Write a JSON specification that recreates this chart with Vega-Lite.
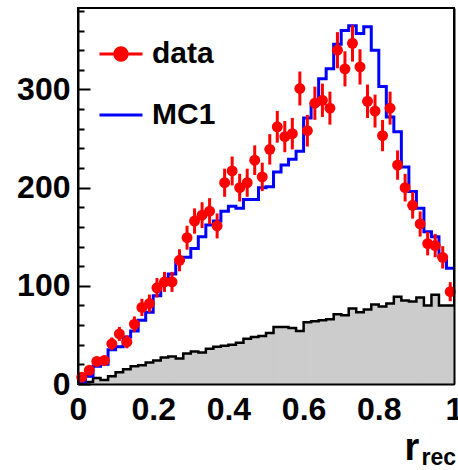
{
  "$schema": "https://vega.github.io/schema/vega-lite/v6.json",
  "width": 376,
  "height": 376,
  "autosize": {"type": "none"},
  "padding": {"left": 78, "top": 8, "right": 4, "bottom": 86},
  "background": "white",
  "config": {
    "view": {"stroke": "black", "strokeWidth": 2},
    "font": "Liberation Sans",
    "axis": {"grid": false, "domainColor": "black", "domainWidth": 2, "tickColor": "black", "tickWidth": 2, "labelColor": "black", "titleColor": "black"}
  },
  "data": {"values": [
    {"lo":0.00,"hi":0.02,"c":0.01,"mc":2,"bg":1,"d":7,"dlo":4.4,"dhi":9.6},
    {"lo":0.02,"hi":0.04,"c":0.03,"mc":8,"bg":2,"d":14,"dlo":10.3,"dhi":17.7},
    {"lo":0.04,"hi":0.06,"c":0.05,"mc":18,"bg":6,"d":23,"dlo":18.2,"dhi":27.8},
    {"lo":0.06,"hi":0.08,"c":0.07,"mc":20,"bg":4,"d":24,"dlo":19.1,"dhi":28.9},
    {"lo":0.08,"hi":0.10,"c":0.09,"mc":35,"bg":8,"d":41,"dlo":34.6,"dhi":47.4},
    {"lo":0.10,"hi":0.12,"c":0.11,"mc":38,"bg":12,"d":51,"dlo":43.9,"dhi":58.1},
    {"lo":0.12,"hi":0.14,"c":0.13,"mc":48,"bg":15,"d":43,"dlo":36.4,"dhi":49.6},
    {"lo":0.14,"hi":0.16,"c":0.15,"mc":54,"bg":18,"d":61,"dlo":53.2,"dhi":68.8},
    {"lo":0.16,"hi":0.18,"c":0.17,"mc":65,"bg":19,"d":78,"dlo":69.2,"dhi":86.8},
    {"lo":0.18,"hi":0.20,"c":0.19,"mc":73,"bg":22,"d":82,"dlo":72.9,"dhi":91.1},
    {"lo":0.20,"hi":0.22,"c":0.21,"mc":90,"bg":24,"d":98,"dlo":88.1,"dhi":107.9},
    {"lo":0.22,"hi":0.24,"c":0.23,"mc":103,"bg":27,"d":104,"dlo":93.8,"dhi":114.2},
    {"lo":0.24,"hi":0.26,"c":0.25,"mc":112,"bg":28,"d":104,"dlo":93.8,"dhi":114.2},
    {"lo":0.26,"hi":0.28,"c":0.27,"mc":126,"bg":26,"d":126,"dlo":114.8,"dhi":137.2},
    {"lo":0.28,"hi":0.30,"c":0.29,"mc":129,"bg":31,"d":149,"dlo":136.8,"dhi":161.2},
    {"lo":0.30,"hi":0.32,"c":0.31,"mc":138,"bg":33,"d":166,"dlo":153.1,"dhi":178.9},
    {"lo":0.32,"hi":0.34,"c":0.33,"mc":150,"bg":32,"d":172,"dlo":158.9,"dhi":185.1},
    {"lo":0.34,"hi":0.36,"c":0.35,"mc":162,"bg":36,"d":176,"dlo":162.7,"dhi":189.3},
    {"lo":0.36,"hi":0.38,"c":0.37,"mc":166,"bg":38,"d":161,"dlo":148.3,"dhi":173.7},
    {"lo":0.38,"hi":0.40,"c":0.39,"mc":176,"bg":39,"d":205,"dlo":190.7,"dhi":219.3},
    {"lo":0.40,"hi":0.42,"c":0.41,"mc":181,"bg":40,"d":217,"dlo":202.3,"dhi":231.7},
    {"lo":0.42,"hi":0.44,"c":0.43,"mc":179,"bg":42,"d":200,"dlo":185.9,"dhi":214.1},
    {"lo":0.44,"hi":0.46,"c":0.45,"mc":188,"bg":46,"d":205,"dlo":190.7,"dhi":219.3},
    {"lo":0.46,"hi":0.48,"c":0.47,"mc":188,"bg":48,"d":228,"dlo":212.9,"dhi":243.1},
    {"lo":0.48,"hi":0.50,"c":0.49,"mc":200,"bg":49,"d":211,"dlo":196.5,"dhi":225.5},
    {"lo":0.50,"hi":0.52,"c":0.51,"mc":201,"bg":52,"d":239,"dlo":223.5,"dhi":254.5},
    {"lo":0.52,"hi":0.54,"c":0.53,"mc":216,"bg":58,"d":262,"dlo":245.8,"dhi":278.2},
    {"lo":0.54,"hi":0.56,"c":0.55,"mc":223,"bg":58,"d":252,"dlo":236.1,"dhi":267.9},
    {"lo":0.56,"hi":0.58,"c":0.57,"mc":229,"bg":57,"d":255,"dlo":239.0,"dhi":271.0},
    {"lo":0.58,"hi":0.60,"c":0.59,"mc":237,"bg":54,"d":301,"dlo":283.7,"dhi":318.3},
    {"lo":0.60,"hi":0.62,"c":0.61,"mc":271,"bg":63,"d":258,"dlo":241.9,"dhi":274.1},
    {"lo":0.62,"hi":0.64,"c":0.63,"mc":285,"bg":64,"d":286,"dlo":269.1,"dhi":302.9},
    {"lo":0.64,"hi":0.66,"c":0.65,"mc":311,"bg":65,"d":289,"dlo":272.0,"dhi":306.0},
    {"lo":0.66,"hi":0.68,"c":0.67,"mc":321,"bg":66,"d":281,"dlo":264.2,"dhi":297.8},
    {"lo":0.68,"hi":0.70,"c":0.69,"mc":346,"bg":71,"d":340,"dlo":321.6,"dhi":358.4},
    {"lo":0.70,"hi":0.72,"c":0.71,"mc":360,"bg":70,"d":321,"dlo":303.1,"dhi":338.9},
    {"lo":0.72,"hi":0.74,"c":0.73,"mc":365,"bg":77,"d":347,"dlo":328.4,"dhi":365.6},
    {"lo":0.74,"hi":0.76,"c":0.75,"mc":357,"bg":73,"d":323,"dlo":305.0,"dhi":341.0},
    {"lo":0.76,"hi":0.78,"c":0.77,"mc":364,"bg":76,"d":288,"dlo":271.0,"dhi":305.0},
    {"lo":0.78,"hi":0.80,"c":0.79,"mc":340,"bg":81,"d":278,"dlo":261.3,"dhi":294.7},
    {"lo":0.80,"hi":0.82,"c":0.81,"mc":303,"bg":79,"d":253,"dlo":237.1,"dhi":268.9},
    {"lo":0.82,"hi":0.84,"c":0.83,"mc":272,"bg":82,"d":281,"dlo":264.2,"dhi":297.8},
    {"lo":0.84,"hi":0.86,"c":0.85,"mc":257,"bg":89,"d":223,"dlo":208.1,"dhi":237.9},
    {"lo":0.86,"hi":0.88,"c":0.87,"mc":221,"bg":85,"d":200,"dlo":185.9,"dhi":214.1},
    {"lo":0.88,"hi":0.90,"c":0.89,"mc":196,"bg":84,"d":182,"dlo":168.5,"dhi":195.5},
    {"lo":0.90,"hi":0.92,"c":0.91,"mc":179,"bg":88,"d":163,"dlo":150.2,"dhi":175.8},
    {"lo":0.92,"hi":0.94,"c":0.93,"mc":155,"bg":80,"d":143,"dlo":131.0,"dhi":155.0},
    {"lo":0.94,"hi":0.96,"c":0.95,"mc":150,"bg":91,"d":141,"dlo":129.1,"dhi":152.9},
    {"lo":0.96,"hi":0.98,"c":0.97,"mc":129,"bg":80,"d":129,"dlo":117.6,"dhi":140.4},
    {"lo":0.98,"hi":1.00,"c":0.99,"mc":118,"bg":80,"d":94,"dlo":84.3,"dhi":103.7}
  ]},
  "resolve": {"axis": {"x": "independent", "y": "independent"}},
  "layer": [
    {
      "mark": {"type": "rect", "fill": "#cccccc", "stroke": "#cccccc", "strokeWidth": 1},
      "encoding": {
        "x": {"field": "lo", "type": "quantitative",
          "scale": {"domain": [0, 1], "nice": false, "zero": false},
          "axis": {"orient": "bottom", "values": [0, 0.2, 0.4, 0.6, 0.8, 1], "ticks": false, "labelFlush": false, "labelOverlap": false,
            "labelFontSize": 32, "labelFontWeight": "bold", "labelBaseline": "top", "labelPadding": 10, "zindex": 1,
            "format": "~g",
            "title": "r", "titleFontSize": 38, "titleFontWeight": "bold", "titleAlign": "left", "titleBaseline": "alphabetic", "titleAnchor": "start", "titleX": 326, "titleY": 75, "titleAngle": 0}},
        "x2": {"field": "hi"},
        "y": {"field": "bg", "type": "quantitative",
          "scale": {"domain": [0, 383], "nice": false},
          "axis": {"orient": "left", "values": [0, 20, 40, 60, 80, 100, 120, 140, 160, 180, 200, 220, 240, 260, 280, 300, 320, 340, 360, 380],
            "tickSize": {"condition": {"test": "datum.value % 100 === 0", "value": -12}, "value": -6},
            "labelExpr": "datum.value % 100 === 0 ? datum.label : ''",
            "labelFontSize": 32, "labelFontWeight": "bold", "labelPadding": 20, "labelBaseline": "middle", "labelOverlap": false, "labelFlush": false,
            "title": null, "zindex": 1}}
      }
    },
    {
      "transform": [{"fold": ["lo", "hi"], "as": ["key", "xv"]}],
      "mark": {"type": "line", "color": "black", "strokeWidth": 2.5, "interpolate": "linear"},
      "encoding": {
        "x": {"field": "xv", "type": "quantitative",
          "axis": {"orient": "bottom", "labels": false, "ticks": false, "domain": false, "zindex": 1,
            "title": "rec", "titleFontSize": 23, "titleFontWeight": "bold", "titleAlign": "left", "titleBaseline": "alphabetic", "titleAnchor": "start", "titleX": 343, "titleY": 80, "titleAngle": 0}},
        "y": {"field": "bg", "type": "quantitative",
          "axis": {"orient": "right", "labels": false, "ticks": false, "domain": true, "title": null, "zindex": 1}},
        "order": [{"field": "lo", "sort": "ascending"}, {"field": "key", "sort": "descending"}]
      }
    },
    {
      "transform": [{"fold": ["lo", "hi"], "as": ["key", "xv"]}],
      "mark": {"type": "line", "strokeWidth": 3, "interpolate": "linear"},
      "encoding": {
        "x": {"field": "xv", "type": "quantitative", "axis": null},
        "y": {"field": "mc", "type": "quantitative", "axis": null},
        "order": [{"field": "lo", "sort": "ascending"}, {"field": "key", "sort": "descending"}],
        "color": {"datum": "MC1", "type": "nominal",
          "scale": {"domain": ["data", "MC1"], "range": ["#ff0000", "#0000ff"]},
          "legend": {"orient": "none", "legendX": 20, "legendY": 23, "title": null, "padding": 0,
            "symbolSize": 1849, "symbolStrokeWidth": 3, "labelFontSize": 30, "labelFontWeight": "bold", "labelFont": "Liberation Sans",
            "labelColor": "black", "labelOffset": 8, "rowPadding": 23,
            "encode": {"symbols": {"update": {
              "shape": {"signal": "datum.value === 'data' ? 'M-1,0L1,0M-0.29,0A0.29,0.29,0,1,0,0.29,0A0.29,0.29,0,1,0,-0.29,0Z' : 'M-1,0L1,0'"},
              "fill": {"signal": "datum.value === 'data' ? '#ff0000' : 'transparent'"},
              "stroke": {"signal": "datum.value === 'data' ? '#ff0000' : '#0000ff'"},
              "strokeWidth": {"value": 3},
              "opacity": {"value": 1}
            }}}}}
      }
    },
    {
      "mark": {"type": "rule", "color": "#ff0000", "strokeWidth": 3},
      "encoding": {
        "x": {"field": "c", "type": "quantitative", "axis": null},
        "y": {"field": "dlo", "type": "quantitative", "axis": null},
        "y2": {"field": "dhi"}
      }
    },
    {
      "mark": {"type": "point", "filled": true, "size": 120, "opacity": 1, "shape": "circle"},
      "encoding": {
        "x": {"field": "c", "type": "quantitative", "axis": null},
        "y": {"field": "d", "type": "quantitative", "axis": null},
        "color": {"datum": "data", "type": "nominal"}
      }
    }
  ]
}
